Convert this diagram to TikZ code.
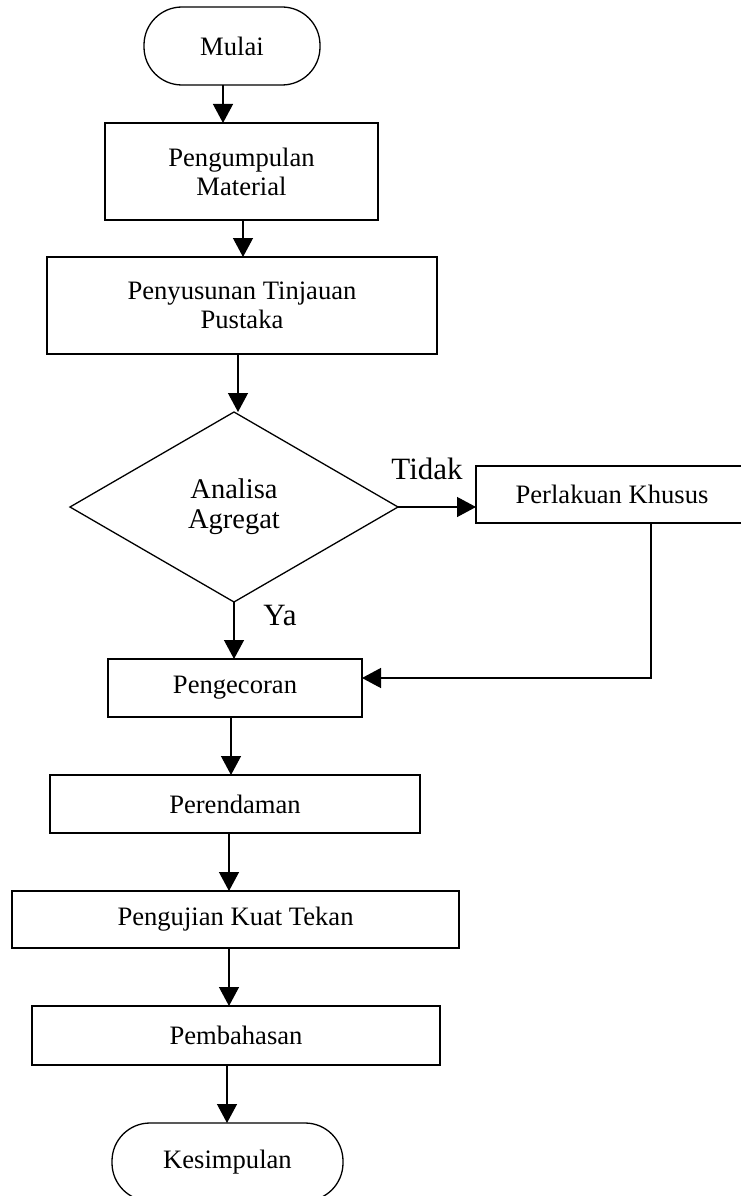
\documentclass[tikz,border=0pt]{standalone}
\usepackage{fontspec}
\setmainfont{Liberation Serif}
\usetikzlibrary{shapes.geometric,arrows.meta}

\begin{document}
\begin{tikzpicture}[x=1pt,y=-1pt,line width=1.3pt,>={Triangle[length=19pt,width=20pt]}]
\useasboundingbox (0,0) rectangle (741,1196);
\begin{scope}[every node/.style={draw,rectangle,align=center,inner sep=0pt,outer sep=0pt,
    font=\fontsize{26.6}{29}\selectfont}]
    \node[rounded corners=38pt,minimum width=176pt,minimum height=78pt] (mulai) at (232,46) {Mulai};
    \node[minimum width=273pt,minimum height=97pt] (material) at (241.5,171.5) {Pengumpulan\\Material};
    \node[minimum width=390pt,minimum height=97pt] (pustaka) at (242,305.5) {Penyusunan Tinjauan\\Pustaka};
    \node[diamond,minimum width=328pt,minimum height=190pt,
        font=\fontsize{28.5}{30}\selectfont] (analisa) at (234,507) {Analisa\\Agregat};
    \node[minimum width=272pt,minimum height=57pt] (khusus) at (612,494.5) {Perlakuan Khusus};
    \node[minimum width=254pt,minimum height=58pt] (cor) at (235,688) {Pengecoran};
    \node[minimum width=370pt,minimum height=58pt] (rendam) at (235,804) {Perendaman};
    \node[minimum width=447pt,minimum height=57pt] (uji) at (235.5,919.5) {Pengujian Kuat Tekan};
    \node[minimum width=408pt,minimum height=59pt] (bahas) at (236,1035.5) {Pembahasan};
    \node[rounded corners=38pt,minimum width=231pt,minimum height=78pt] (simpul) at (227.5,1162) {Kesimpulan};
\end{scope}
\begin{scope}[every node/.style={font=\fontsize{31}{33}\selectfont},
    every edge/.style={draw=black,line width=1.3pt}]
    \node (tidak) at (427,469) {Tidak};
    \node (ya) at (280,615) {Ya};
    \path [->] ([xshift=-9pt]mulai.south) edge ([xshift=-9pt]mulai.south |- material.north);
    \path [->] ([xshift=1.5pt]material.south) edge ([xshift=1.5pt]material.south |- pustaka.north);
    \path [->] ([xshift=-4pt]pustaka.south) edge ([xshift=-4pt]pustaka.south |- analisa.north);
    \path [->] (analisa.south) edge (analisa.south |- cor.north);
    \path [->] (analisa.east) edge (analisa.east -| khusus.west);
    \draw [->] ([xshift=39pt]khusus.south) |- ([yshift=10pt]cor.east);
    \path [->] ([xshift=-4pt]cor.south) edge ([xshift=-4pt]cor.south |- rendam.north);
    \path [->] ([xshift=-6pt]rendam.south) edge ([xshift=-6pt]rendam.south |- uji.north);
    \path [->] ([xshift=-6.5pt]uji.south) edge ([xshift=-6.5pt]uji.south |- bahas.north);
    \path [->] ([xshift=-9pt]bahas.south) edge ([xshift=-9pt]bahas.south |- simpul.north);
\end{scope}
\end{tikzpicture}
\end{document}
